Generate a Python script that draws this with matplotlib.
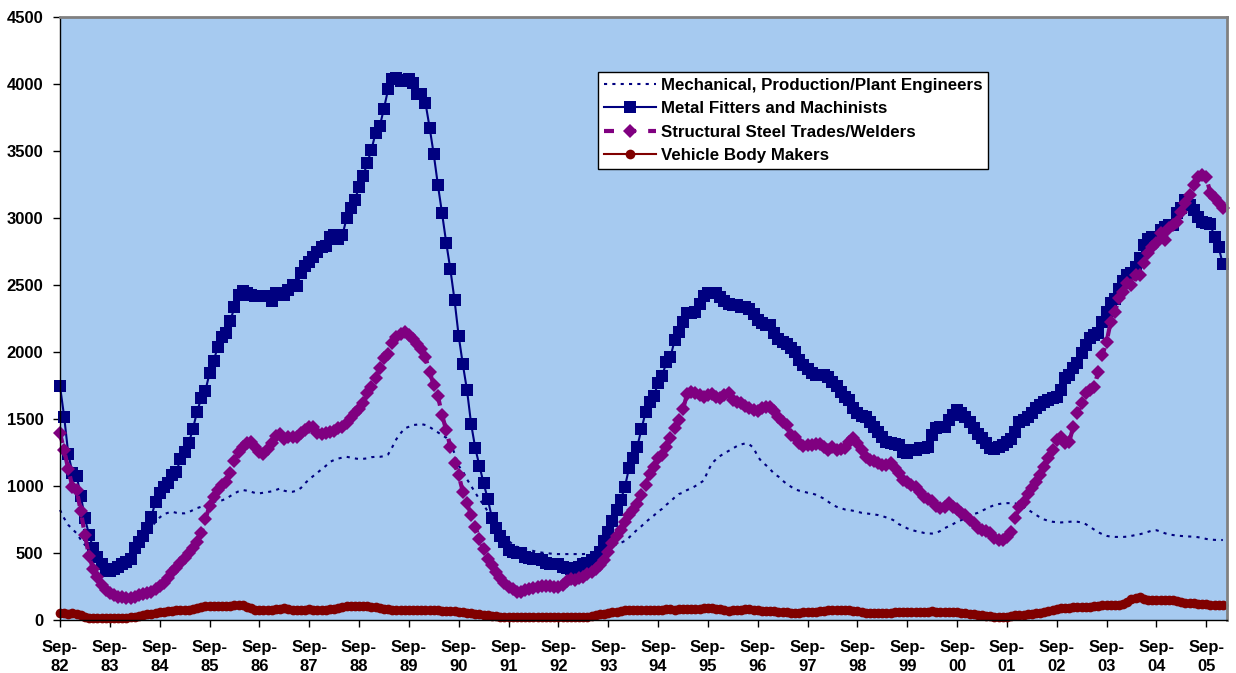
import matplotlib
matplotlib.use('Agg')
import matplotlib.pyplot as plt

# monthly vacancy counts, Sep-82 .. Jan-06 (rows = Sep..Aug)
mech_engineers = [
    821, 759, 709, 678, 647, 600, 560, 540, 510, 470, 430, 400,
    390, 395, 410, 430, 455, 490, 540, 600, 659, 678, 696, 730,
    765, 790, 800, 808, 800, 796, 796, 805, 820, 835, 845, 855,
    870, 880, 890, 893, 905, 925, 945, 960, 970, 965, 957, 948,
    945, 950, 955, 960, 970, 982, 965, 957, 957, 965, 985, 1020,
    1050, 1075, 1100, 1125, 1150, 1180, 1194, 1205, 1212, 1218, 1212, 1206,
    1201, 1203, 1206, 1215, 1218, 1218, 1222, 1235, 1290, 1350, 1393, 1430,
    1442, 1455, 1458, 1462, 1455, 1440, 1420, 1400, 1380, 1360, 1320, 1243,
    1150, 1110, 1050, 1000, 950, 900, 860, 810, 760, 710, 665, 620,
    590, 565, 547, 535, 527, 522, 515, 508, 503, 500, 496, 493,
    492, 492, 492, 492, 492, 492, 492, 494, 497, 510, 525, 535,
    545, 555, 565, 575, 590, 615, 645, 675, 700, 730, 755, 780,
    808, 830, 860, 885, 915, 940, 950, 970, 982, 1000, 1020, 1040,
    1110, 1170, 1200, 1225, 1245, 1262, 1280, 1298, 1310, 1318, 1310, 1285,
    1220, 1180, 1155, 1125, 1090, 1070, 1040, 1015, 995, 975, 965, 958,
    950, 945, 935, 920, 905, 882, 860, 845, 835, 825, 821, 815,
    808, 800, 796, 792, 788, 783, 775, 765, 755, 740, 715, 700,
    684, 672, 664, 658, 650, 646, 645, 650, 665, 685, 700, 715,
    733, 745, 760, 775, 790, 800, 815, 830, 845, 858, 865, 870,
    872, 872, 870, 860, 845, 825, 805, 785, 765, 750, 740, 733,
    730, 728, 730, 733, 735, 733, 728, 715, 695, 675, 655, 640,
    628, 622, 620, 620, 620, 622, 628, 634, 640, 648, 658, 668,
    670, 660, 648, 638, 634, 630, 627, 625, 623, 622, 618, 612,
    605, 600, 598, 597, 597,
]

metal_fitters = [
    1746, 1517, 1238, 1099, 1074, 928, 761, 634, 537, 472, 415, 368,
    368, 383, 398, 415, 430, 453, 537, 584, 627, 689, 771, 883,
    945, 990, 1020, 1082, 1106, 1199, 1251, 1318, 1427, 1554, 1654, 1711,
    1840, 1934, 2039, 2114, 2140, 2233, 2333, 2425, 2454, 2440, 2425, 2420,
    2420, 2418, 2415, 2380, 2442, 2437, 2425, 2462, 2499, 2495, 2586, 2641,
    2673, 2710, 2743, 2785, 2790, 2855, 2872, 2842, 2872, 2997, 3071, 3138,
    3228, 3312, 3412, 3511, 3636, 3685, 3817, 3959, 4034, 4048, 4023, 4028,
    4041, 4004, 3922, 3922, 3859, 3675, 3474, 3245, 3034, 2815, 2616, 2387,
    2119, 1907, 1716, 1462, 1281, 1149, 1020, 903, 763, 684, 627, 584,
    522, 510, 502, 502, 472, 460, 453, 453, 448, 428, 415, 415,
    415, 393, 386, 378, 378, 393, 415, 423, 448, 472, 510, 592,
    659, 741, 821, 895, 990, 1132, 1206, 1293, 1425, 1550, 1629, 1673,
    1766, 1823, 1922, 1964, 2089, 2151, 2225, 2288, 2288, 2300, 2355, 2417,
    2437, 2437, 2437, 2412, 2380, 2355, 2350, 2350, 2338, 2333, 2318, 2281,
    2238, 2213, 2205, 2201, 2139, 2100, 2076, 2059, 2030, 2002, 1940, 1902,
    1870, 1845, 1828, 1828, 1828, 1810, 1778, 1746, 1703, 1661, 1641, 1579,
    1542, 1525, 1512, 1479, 1442, 1405, 1367, 1330, 1323, 1313, 1306, 1256,
    1248, 1268, 1268, 1281, 1286, 1290, 1380, 1430, 1440, 1442, 1492, 1530,
    1567, 1542, 1512, 1479, 1430, 1388, 1355, 1318, 1281, 1273, 1293, 1306,
    1330, 1348, 1405, 1479, 1492, 1517, 1547, 1579, 1604, 1629, 1641, 1654,
    1666, 1716, 1803, 1828, 1878, 1915, 1990, 2052, 2101, 2126, 2143, 2225,
    2300, 2362, 2392, 2470, 2531, 2574, 2591, 2636, 2698, 2798, 2847, 2860,
    2855, 2909, 2934, 2945, 2947, 3034, 3071, 3138, 3096, 3059, 3009, 2971,
    2960, 2955, 2855, 2780, 2656,
]

steel_welders = [
    1393, 1268, 1124, 994, 970, 813, 634, 477, 378, 323, 261, 224,
    204, 187, 174, 170, 166, 166, 174, 187, 192, 199, 211, 229,
    254, 274, 311, 360, 386, 428, 465, 502, 535, 584, 647, 751,
    850, 920, 970, 1007, 1032, 1099, 1188, 1256, 1293, 1318, 1330, 1293,
    1256, 1240, 1273, 1318, 1373, 1388, 1350, 1365, 1367, 1367, 1393, 1417,
    1442, 1442, 1393, 1388, 1393, 1405, 1412, 1430, 1442, 1472, 1504, 1547,
    1572, 1617, 1691, 1736, 1803, 1878, 1952, 1984, 2064, 2109, 2134, 2151,
    2125, 2100, 2060, 2020, 1960, 1852, 1753, 1671, 1529, 1417, 1293, 1169,
    1082, 957, 870, 783, 696, 602, 527, 453, 410, 360, 311, 279,
    249, 229, 211, 211, 224, 229, 241, 249, 254, 254, 254, 244,
    249, 261, 293, 304, 300, 311, 323, 341, 360, 378, 410, 448,
    510, 572, 627, 671, 733, 783, 821, 865, 932, 1007, 1089, 1144,
    1206, 1231, 1293, 1355, 1430, 1492, 1572, 1686, 1703, 1691, 1679, 1666,
    1679, 1686, 1666, 1654, 1679, 1696, 1641, 1629, 1617, 1597, 1584, 1567,
    1560, 1579, 1592, 1590, 1560, 1517, 1479, 1455, 1380, 1367, 1318, 1298,
    1306, 1308, 1311, 1311, 1293, 1268, 1290, 1268, 1275, 1281, 1330, 1355,
    1318, 1268, 1218, 1194, 1185, 1169, 1160, 1156, 1169, 1132, 1094, 1044,
    1030, 1010, 994, 957, 920, 900, 885, 850, 833, 845, 870, 840,
    825, 800, 783, 746, 721, 690, 675, 665, 647, 610, 597, 600,
    622, 660, 759, 845, 880, 940, 982, 1032, 1082, 1140, 1210, 1268,
    1343, 1367, 1318, 1330, 1442, 1542, 1617, 1691, 1716, 1741, 1852, 1977,
    2076, 2225, 2300, 2400, 2449, 2512, 2499, 2574, 2574, 2661, 2736, 2785,
    2810, 2885, 2835, 2922, 2947, 2971, 3046, 3109, 3171, 3245, 3307, 3320,
    3307, 3183, 3146, 3109, 3071,
]

body_makers = [
    52, 50, 48, 49, 45, 35, 25, 18, 15, 13, 12, 12,
    12, 12, 12, 15, 18, 22, 26, 32, 38, 42, 46, 52,
    58, 63, 67, 70, 72, 74, 75, 78, 82, 87, 95, 103,
    104, 104, 104, 103, 105, 108, 110, 112, 110, 100, 88, 78,
    75, 74, 75, 78, 80, 84, 87, 80, 76, 74, 76, 78,
    80, 78, 76, 74, 76, 80, 85, 92, 100, 105, 106, 106,
    106, 105, 104, 100, 96, 90, 85, 80, 76, 74, 72, 72,
    72, 74, 75, 75, 76, 75, 74, 72, 70, 70, 68, 65,
    62, 58, 55, 50, 46, 42, 38, 34, 30, 28, 26, 25,
    24, 24, 23, 23, 24, 25, 25, 24, 24, 25, 26, 25,
    25, 24, 24, 25, 26, 25, 24, 25, 28, 34, 42, 48,
    52, 58, 63, 68, 72, 74, 76, 78, 76, 74, 72, 74,
    76, 78, 80, 79, 78, 80, 82, 84, 83, 82, 84, 87,
    88, 86, 84, 80, 74, 70, 72, 74, 76, 80, 82, 78,
    72, 68, 66, 65, 64, 63, 60, 56, 52, 50, 52, 56,
    60, 62, 62, 64, 68, 72, 75, 77, 78, 78, 76, 70,
    64, 58, 54, 52, 50, 50, 52, 54, 55, 56, 56, 57,
    58, 58, 60, 62, 62, 63, 64, 63, 62, 60, 60, 59,
    58, 55, 50, 46, 42, 38, 34, 30, 27, 25, 22, 20,
    22, 28, 34, 37, 40, 42, 45, 50, 55, 62, 70, 78,
    84, 88, 90, 92, 94, 95, 96, 98, 100, 104, 108, 110,
    112, 112, 113, 115, 120, 137, 155, 165, 168, 155, 148, 146,
    148, 150, 150, 152, 150, 145, 135, 128, 124, 124, 122, 120,
    118, 115, 114, 112, 110,
]

years = ['82', '83', '84', '85', '86', '87', '88', '89', '90', '91', '92', '93',
         '94', '95', '96', '97', '98', '99', '00', '01', '02', '03', '04', '05']
tick_labels = ['Sep-\n' + y for y in years]

names = ['Mechanical, Production/Plant Engineers',
         'Metal Fitters and Machinists',
         'Structural Steel Trades/Welders',
         'Vehicle Body Makers']


def main():
    plt.rcParams['font.family'] = ['Liberation Sans', 'DejaVu Sans']
    plt.rcParams['font.weight'] = 'bold'

    fig = plt.figure(figsize=(12.36, 6.73), dpi=100)
    ax = fig.add_axes([60 / 1236, 53 / 673, 1167 / 1236, 603 / 673])
    ax.set_facecolor('#A6CAF0')

    x = list(range(len(metal_fitters)))

    ax.plot(x, mech_engineers, color='#000080', lw=1.5,
            linestyle=(0, (1.5, 2.5)), label=names[0], clip_on=False)
    ax.plot(x, metal_fitters, color='#000080', lw=1.5, marker='s',
            markersize=8, markeredgewidth=0, label=names[1], clip_on=False)
    ax.plot(x, steel_welders, color='#800080', lw=3,
            linestyle=(0, (2.4, 2.9)), marker='D', markersize=6.8,
            markeredgewidth=0, label=names[2], clip_on=False)
    ax.plot(x, body_makers, color='#800000', lw=1.5, marker='o',
            markersize=7, markeredgewidth=0, label=names[3], clip_on=False)

    ax.set_xlim(0, 281)
    ax.set_ylim(0, 4500)
    ax.set_yticks(range(0, 4501, 500))
    ax.set_xticks(range(0, 12 * len(years), 12))
    ax.set_xticklabels(tick_labels, linespacing=1.3)

    ax.tick_params(axis='both', labelsize=12, length=5, width=1,
                   direction='out', color='black')
    ax.tick_params(axis='y', pad=7)
    ax.tick_params(axis='x', pad=9.5)

    for side in ['left', 'bottom']:
        ax.spines[side].set_color('black')
        ax.spines[side].set_linewidth(1)
    for side in ['top', 'right']:
        ax.spines[side].set_color('#808080')
        ax.spines[side].set_linewidth(2)

    leg = ax.legend(loc='upper left', bbox_to_anchor=(0.461, 0.909),
                    borderaxespad=0, fancybox=False, framealpha=1,
                    edgecolor='black', fontsize=12.2, handlelength=3.1,
                    handletextpad=0.25, labelspacing=0.5, borderpad=0.35)
    leg.get_frame().set_linewidth(1)

    fig.savefig('out.png', dpi=100)


if __name__ == '__main__':
    main()
